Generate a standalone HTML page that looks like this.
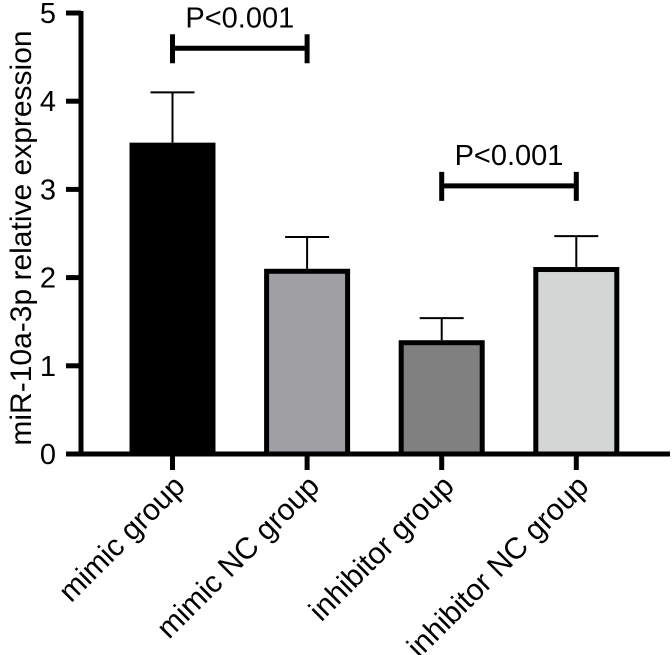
<!DOCTYPE html>
<html><head><meta charset="utf-8"><style>
html,body{margin:0;padding:0;background:#fff}
svg{display:block;font-family:"Liberation Sans",Arial,sans-serif}
</style></head><body>
<svg id="chart" width="672" height="655" viewBox="0 0 672 655" xmlns="http://www.w3.org/2000/svg"></svg>
<script>
const categories = ["mimic group","mimic NC group","inhibitor group","inhibitor NC group"];
const values = [3.53, 2.1, 1.29, 2.12];
const errors = [0.57, 0.36, 0.25, 0.35];
const yTicks = [0,1,2,3,4,5];
const fills = ["#000000","#a0a0a4","#808080","#d4d6d6"];
const comparisons = [[0,1,4.6,"P<0.001"],[2,3,3.04,"P<0.001"]];

const NS="http://www.w3.org/2000/svg";
const svg=document.getElementById('chart');
const x0=81, y0=454, pxPerUnit=88.2;
const yS=v=>y0-v*pxPerUnit;
const band=134.6, firstC=172.5, barW=86;
const xC=i=>firstC+i*band;
function mk(t,a,p){const e=document.createElementNS(NS,t);for(const k in a)e.setAttribute(k,a[k]);(p||svg).appendChild(e);return e;}

// y axis
const ya=mk('g',{});


mk('line',{x1:x0,y1:yS(5)-2,x2:x0,y2:y0+2,stroke:'#000','stroke-width':5},ya);
yTicks.forEach(v=>{
  const l=mk('line',{x1:66,y1:yS(v),x2:x0,y2:yS(v),stroke:'#000','stroke-width':5},ya);
  
  
  const t=mk('text',{x:56,y:yS(v)+10,'text-anchor':'end','font-size':29},ya);
  
  
  t.textContent=v;
});
const yt=mk('text',{x:0,y:0,transform:'translate(31,238) rotate(-90)','text-anchor':'middle','font-size':30});


yt.textContent='miR-10a-3p relative expression';

// bars
categories.forEach((c,i)=>{
  const cx=xC(i);
  const eb=mk('line',{x1:cx,y1:yS(values[i]),x2:cx,y2:yS(values[i]+errors[i]),stroke:'#000','stroke-width':2});
  
  
  const cap=mk('line',{x1:cx-22,y1:yS(values[i]+errors[i]),x2:cx+22,y2:yS(values[i]+errors[i]),stroke:'#000','stroke-width':2});
  
  
  const r=mk('rect',{x:cx-barW/2+2.5,y:yS(values[i])+2.5,width:barW-5,height:y0-yS(values[i])-2.5,fill:fills[i],stroke:'#000','stroke-width':5});
  
  
  const tk=mk('line',{x1:cx,y1:y0,x2:cx,y2:470,stroke:'#000','stroke-width':5});
  
  
  const tl=mk('text',{x:0,y:0,transform:`translate(${cx+14},${488}) rotate(-45)`,'text-anchor':'end','font-size':30});
  
  
  tl.textContent=c;
});
// x axis
const xa=mk('line',{x1:x0-2,y1:y0,x2:670,y2:y0,stroke:'#000','stroke-width':5});



// comparisons
comparisons.forEach(([a,b,v,lab])=>{
  const g=mk('g',{});
  
  
  const y=yS(v);
  mk('line',{x1:xC(a),y1:y,x2:xC(b),y2:y,stroke:'#000','stroke-width':5},g);
  mk('line',{x1:xC(a),y1:y-14,x2:xC(a),y2:y+15,stroke:'#000','stroke-width':5},g);
  mk('line',{x1:xC(b),y1:y-14,x2:xC(b),y2:y+15,stroke:'#000','stroke-width':5},g);
  const t=mk('text',{x:(xC(a)+xC(b))/2,y:y-21,'text-anchor':'middle','font-size':29},g);
  
  
  t.textContent=lab;
});
</script>
</body></html>
